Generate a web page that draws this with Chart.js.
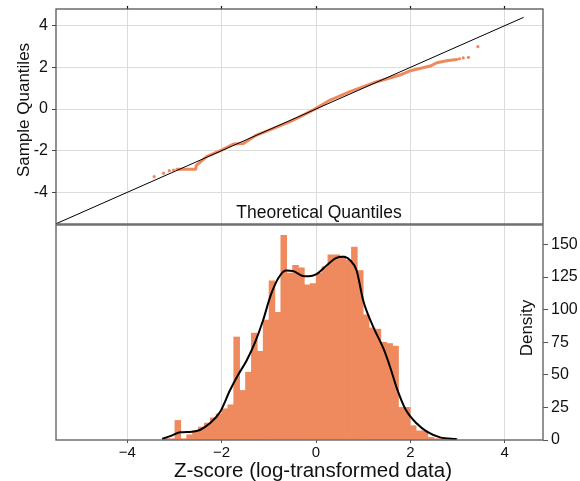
<!DOCTYPE html>
<html>
<head>
<meta charset="utf-8">
<script src="https://cdn.jsdelivr.net/npm/chart.js@4/dist/chart.umd.min.js"></script>
<style>
  html, body { margin: 0; padding: 0; background: #ffffff; }
  #wrap { position: relative; width: 580px; height: 481px; overflow: hidden; background: #ffffff; }
  #qq { position: absolute; left: 0; top: 0; }
  #hist { position: absolute; left: 0; top: 220px; }
</style>
</head>
<body>
<div id="wrap">
  <canvas id="qq" width="580" height="225" style="width:580px;height:225px"></canvas>
  <canvas id="hist" width="580" height="261" style="width:580px;height:261px"></canvas>
</div>
<script>
const FONT = '"Liberation Sans", Arial, Helvetica, sans-serif';
const ORANGE = 'rgb(239,137,94)';
const GRID = '#dcdcdc';

// ---- shared horizontal axis ----
const xTicks = [-4, -2, 0, 2, 4];
const X_MIN = -5.51, X_MAX = 4.81;

// ---- Q-Q panel ----
const qqTicks = [-4, -2, 0, 2, 4];
const QQ_MIN = -5.52, QQ_MAX = 4.80;
// dense run of quantile pairs (theoretical, sample)
const qqTheoretical = [-2.95, -2.55, -2.54, -2.32, -2.00, -1.75, -1.54, -1.26, -0.90, -0.55, -0.27, 0.00, 0.30, 0.72, 1.29, 1.78, 2.00, 2.42, 2.56, 2.77, 2.98];
const qqSample      = [-2.89, -2.89, -2.72, -2.29, -1.97, -1.68, -1.66, -1.25, -0.93, -0.61, -0.29, 0.03, 0.43, 0.83, 1.31, 1.63, 1.84, 2.06, 2.22, 2.32, 2.38];
// isolated tail points
const tailTheoretical = [-3.43, -3.23, -3.11, -3.02, 3.04, 3.12, 3.23, 3.43];
const tailSample      = [-3.25, -3.08, -2.96, -2.93, 2.41, 2.45, 2.48, 2.99];
// 45-degree reference line
const refX = [-5.51, 4.40];
const refY = [-5.51, 4.40];

// ---- histogram panel ----
const BIN_START = -3.24;
const BIN_WIDTH = 0.1247;
const binCounts = [1, 1, 15, 1, 4, 7, 10, 13, 17, 20,
                   24, 27, 79, 38, 52, 82, 68, 92, 122, 98,
                   157, 128, 134, 132, 119, 120, 128, 133, 142, 142,
                   141, 138, 148, 130, 96, 86, 85, 75, 74, 72,
                   25, 25, 11, 7, 7, 2, 1, 1, 1, 1];
const densityTicks = [0, 25, 50, 75, 100, 125, 150];
const DENS_MAX = 164.9;
const kdeX = [-3.26, -3.09, -2.88, -2.63, -2.46, -2.25, -2.03, -1.82, -1.65, -1.47, -1.29, -1.12, -0.97, -0.80, -0.64, -0.48, -0.30, -0.15, 0.00, 0.23, 0.42, 0.58, 0.72, 0.86, 1.00, 1.21, 1.43, 1.57, 1.71, 1.89, 2.13, 2.35, 2.63, 2.98];
const kdeY = [0.8, 3.0, 5.9, 6.4, 7.7, 12.8, 21.7, 38.3, 50.0, 61.0, 75.0, 92.0, 110.0, 124.0, 130.0, 129.5, 126.0, 125.5, 127.0, 134.0, 139.5, 140.5, 138.0, 130.0, 107.0, 87.0, 70.0, 56.0, 40.0, 24.0, 12.8, 6.4, 2.0, 0.8];

const zip = (xs, ys) => xs.map((x, i) => ({ x: x, y: ys[i] }));
const fixedTicks = list => scale => { scale.ticks = list.map(v => ({ value: v })); };
// fixed axis thickness, no extra room reserved for overhanging labels
const fixedSize = (prop, px) => scale => {
  scale[prop] = px;
  scale.paddingTop = 0; scale.paddingBottom = 0;
  scale.paddingLeft = 0; scale.paddingRight = 0;
};

// frame around the plotting area
const framePlugin = {
  id: 'frame',
  afterDraw(chart, args, opts) {
    const a = chart.chartArea, ctx = chart.ctx;
    ctx.save();
    ctx.strokeStyle = opts.color || '#555';
    ctx.lineWidth = opts.width || 1.3;
    ctx.strokeRect(a.left, a.top, a.right - a.left, a.bottom - a.top);
    ctx.restore();
  }
};

// axis captions placed at fixed spots
const captionPlugin = {
  id: 'captions',
  afterDraw(chart, args, opts) {
    const ctx = chart.ctx;
    (opts.items || []).forEach(it => {
      ctx.save();
      ctx.font = it.size + 'px ' + FONT;
      ctx.fillStyle = '#111';
      ctx.textAlign = 'center';
      ctx.textBaseline = 'alphabetic';
      ctx.translate(it.x, it.y);
      if (it.rotate) ctx.rotate(it.rotate);
      ctx.fillText(it.text, 0, 0);
      ctx.restore();
    });
  }
};

Chart.register(framePlugin, captionPlugin);

new Chart(document.getElementById('qq'), {
  type: 'scatter',
  data: {
    datasets: [
      { data: zip(refX, refY), showLine: true, borderColor: '#000', borderWidth: 1, pointRadius: 0, order: 0 },
      { data: zip(qqTheoretical, qqSample), showLine: true, borderColor: ORANGE, borderWidth: 3,
        pointRadius: 0, borderCapStyle: 'round', borderJoinStyle: 'round', order: 1 },
      { data: zip(tailTheoretical, tailSample), showLine: false, pointRadius: 1.6, pointBorderWidth: 0,
        backgroundColor: ORANGE, borderColor: ORANGE, order: 1 }
    ]
  },
  options: {
    responsive: false, animation: false, devicePixelRatio: 1,
    layout: { autoPadding: false, padding: { left: 0, right: 37, top: 0, bottom: 1 } },
    plugins: {
      legend: { display: false }, tooltip: { enabled: false },
      frame: { color: '#555', width: 1.3 },
      captions: { items: [
        { text: 'Theoretical Quantiles', size: 17.5, x: 319, y: 218 },
        { text: 'Sample Quantiles', size: 17, x: 29, y: 110, rotate: -Math.PI / 2 }
      ] }
    },
    scales: {
      x: {
        type: 'linear', position: 'top', min: X_MIN, max: X_MAX,
        afterBuildTicks: fixedTicks(xTicks),
        afterFit: fixedSize('height', 9),
        border: { display: false },
        grid: { color: GRID, lineWidth: 1, drawTicks: true, tickLength: 3, tickColor: '#111', tickWidth: 1.2 },
        ticks: { display: false }
      },
      y: {
        type: 'linear', position: 'left', min: QQ_MIN, max: QQ_MAX,
        afterBuildTicks: fixedTicks(qqTicks),
        afterFit: fixedSize('width', 56),
        border: { display: false },
        grid: { color: GRID, lineWidth: 1, drawTicks: true, tickLength: 4, tickColor: '#444' },
        ticks: { font: { family: FONT, size: 16 }, color: '#111', padding: 4,
                 callback: v => String(v) }
      }
    }
  }
});

new Chart(document.getElementById('hist'), {
  type: 'bar',
  data: {
    datasets: [
      { type: 'line', data: zip(kdeX, kdeY), borderColor: '#000', borderWidth: 2, pointRadius: 0,
        cubicInterpolationMode: 'monotone', order: 0 },
      { type: 'bar', data: binCounts.map((c, i) => ({ x: BIN_START + (i + 0.5) * BIN_WIDTH, y: c })),
        backgroundColor: ORANGE, borderWidth: 0, barPercentage: 1, categoryPercentage: 1, order: 1 }
    ]
  },
  options: {
    responsive: false, animation: false, devicePixelRatio: 1,
    layout: { autoPadding: false, padding: { left: 56, right: 0, top: 5, bottom: 0 } },
    plugins: {
      legend: { display: false }, tooltip: { enabled: false },
      frame: { color: '#666', width: 1.4 },
      captions: { items: [
        { text: 'Z-score (log-transformed data)', size: 20.5, x: 313, y: 257 },
        { text: 'Density', size: 17, x: 532, y: 108, rotate: -Math.PI / 2 }
      ] }
    },
    scales: {
      x: {
        type: 'linear', position: 'bottom', min: X_MIN, max: X_MAX, offset: false,
        afterBuildTicks: fixedTicks(xTicks),
        afterFit: fixedSize('height', 41),
        border: { display: false },
        grid: { color: GRID, lineWidth: 1, drawTicks: true, tickLength: 3, tickColor: '#555', offset: false },
        ticks: { font: { family: FONT, size: 15 }, color: '#111', padding: 1, maxRotation: 0,
                 callback: v => (v < 0 ? '\u2212' + Math.abs(v) : String(v)) }
      },
      y: {
        type: 'linear', position: 'right', min: 0, max: DENS_MAX,
        afterBuildTicks: fixedTicks(densityTicks),
        afterFit: fixedSize('width', 37),
        border: { display: false },
        grid: { drawOnChartArea: false, drawTicks: true, tickLength: 5, tickColor: '#555' },
        ticks: { font: { family: FONT, size: 16 }, color: '#111', padding: 3 }
      }
    }
  }
});
</script>
</body>
</html>
